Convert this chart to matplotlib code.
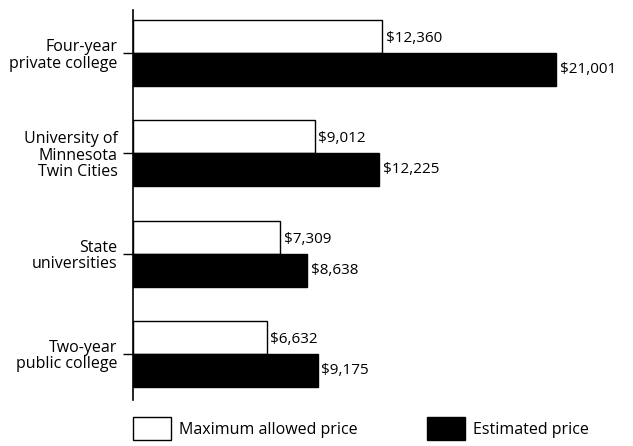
import matplotlib
matplotlib.use("Agg")
import matplotlib.pyplot as plt
from matplotlib.patches import Patch
import numpy as np

plt.rcParams['font.family'] = ['Open Sans', 'DejaVu Sans']

categories = ["Four-year\nprivate college", "University of\nMinnesota\nTwin Cities",
              "State\nuniversities", "Two-year\npublic college"]
max_allowed = [12360, 9012, 7309, 6632]
estimated = [21001, 12225, 8638, 9175]
series_names = ["Maximum allowed price", "Estimated price"]

W, H = 633, 446
fig = plt.figure(figsize=(W/100, H/100), dpi=100)
ax = fig.add_axes([133/W, 1-400/H, 500/W, 390/H])

FS = 11.5
VFS = 11
y = np.arange(len(categories))
bh = 0.33
ax.barh(y - bh/2, max_allowed, height=bh, color='white', edgecolor='black', linewidth=1.0)
ax.barh(y + bh/2, estimated, height=bh, color='black', edgecolor='black', linewidth=1.0)

for yi, v in zip(y, max_allowed):
    ax.text(v + 180, yi - bh/2 + 0.02, f"${v:,}", va='center', ha='left', fontsize=VFS)
for yi, v in zip(y, estimated):
    ax.text(v + 180, yi + bh/2, f"${v:,}", va='center', ha='left', fontsize=VFS)

ax.set_xlim(0, 24826)
ax.set_ylim(3.46, -0.43)
ax.set_yticks(y)
ax.set_yticklabels(categories, fontsize=FS, linespacing=1.05)
ax.tick_params(axis='y', length=7, width=1.0, direction='out', pad=4)
ax.set_xticks([])
for s in ['top', 'right', 'bottom']:
    ax.spines[s].set_visible(False)
ax.spines['left'].set_linewidth(1.2)

handles = [Patch(facecolor='white', edgecolor='black', linewidth=1.0),
           Patch(facecolor='black', edgecolor='black', linewidth=1.0)]
fig.legend(handles, series_names, loc='upper left', bbox_to_anchor=(133/W, 1-417/H),
           ncol=2, frameon=False, fontsize=FS, handlelength=2.4, handleheight=1.85,
           handletextpad=0.5, columnspacing=4.3, borderpad=0, borderaxespad=0)

fig.savefig("out.png", dpi=100)
